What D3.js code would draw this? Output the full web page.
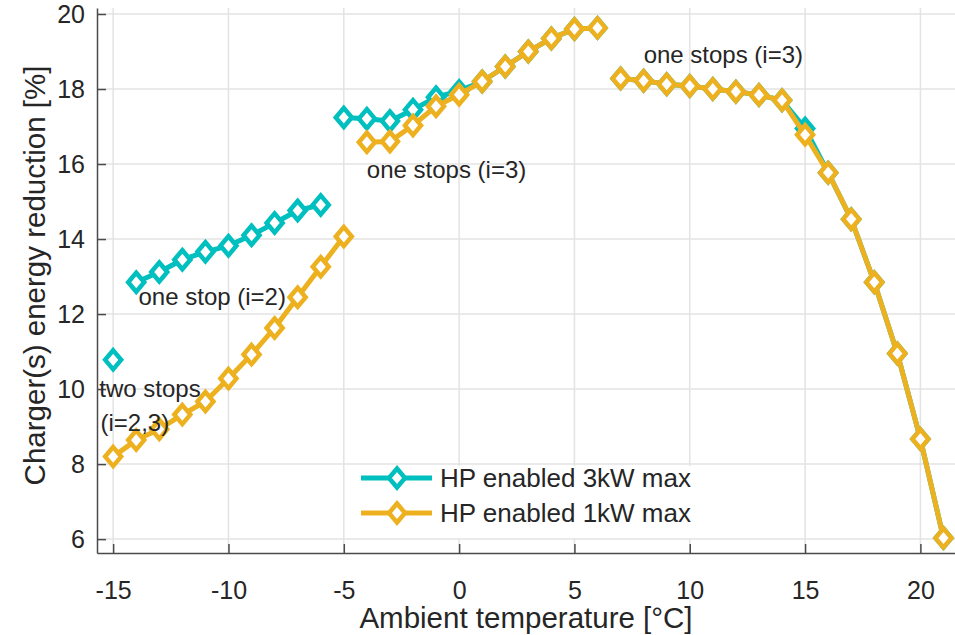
<!DOCTYPE html>
<html>
<head>
<meta charset="utf-8">
<script src="https://cdn.jsdelivr.net/npm/d3@7"></script>
<style>
  body { margin: 0; background: #fff; }
  svg text { font-family: "Liberation Sans", Arial, sans-serif; fill: #262626; }
</style>
</head>
<body>
<div id="chart"></div>
<script>
// ambient temperature [°C]
const temps = [-15, -14, -13, -12, -11, -10, -9, -8, -7, -6, -5, -4, -3, -2, -1, 0, 1, 2, 3, 4, 5, 6,
               7, 8, 9, 10, 11, 12, 13, 14, 15, 16, 17, 18, 19, 20, 21];

// HP enabled 3kW max
const hp3kW = [10.78, 12.85, 13.12, 13.45, 13.66, 13.82, 14.1, 14.43, 14.76, 14.91, 17.24, 17.21, 17.15, 17.45, 17.78, 17.95,
               18.2, 18.6, 19.0, 19.35, 19.6, 19.63,
               18.28, 18.22, 18.13, 18.08, 18.0, 17.93, 17.84, 17.7, 16.95, 15.77, 14.53, 12.85, 10.95, 8.67, 6.03];
// temperatures where a new line segment begins
const hp3kWBreaks = [-14, -5, 7];

// HP enabled 1kW max
const hp1kW = [8.2, 8.64, 8.93, 9.32, 9.67, 10.28, 10.92, 11.63, 12.45, 13.26, 14.07, 16.58, 16.6, 17.03, 17.54, 17.85,
               18.2, 18.6, 19.0, 19.35, 19.6, 19.63,
               18.28, 18.22, 18.13, 18.08, 18.0, 17.93, 17.84, 17.7, 16.78, 15.77, 14.53, 12.85, 10.95, 8.67, 6.03];
const hp1kWBreaks = [-4, 7];

const xTicks = [-15, -10, -5, 0, 5, 10, 15, 20];
const yTicks = [6, 8, 10, 12, 14, 16, 18, 20];

const seriesNames = ['HP enabled 3kW max', 'HP enabled 1kW max'];
const colors = ['#00bfbf', '#edb120'];

const annotations = [
  { x: -13.9, y: 12.23, text: 'one stop (i=2)' },
  { x: -4.0, y: 15.63, text: 'one stops (i=3)' },
  { x: 8.0, y: 18.69, text: 'one stops (i=3)' },
  { x: -15.6, y: 9.8, text: 'two stops' },
  { x: -15.55, y: 8.88, text: '(i=2,3)' }
];

const width = 955, height = 635;
const m = { left: 97, right: 955, top: 8, bottom: 553 };

const svg = d3.select('#chart').append('svg')
  .attr('width', width)
  .attr('height', height);

const x = d3.scaleLinear().domain([-15.7, 21.5]).range([m.left, m.right]);
const y = d3.scaleLinear().domain([5.63, 20.16]).range([m.bottom, m.top]);

// grid
svg.append('g').selectAll('line')
  .data(xTicks).enter().append('line')
  .attr('x1', d => x(d)).attr('x2', d => x(d))
  .attr('y1', m.top).attr('y2', m.bottom)
  .attr('stroke', '#e3e3e3').attr('stroke-width', 1.5);
svg.append('g').selectAll('line')
  .data(yTicks).enter().append('line')
  .attr('x1', m.left).attr('x2', m.right)
  .attr('y1', d => y(d)).attr('y2', d => y(d))
  .attr('stroke', '#e3e3e3').attr('stroke-width', 1.5);

// axes (ticks inside, MATLAB-like), plain hyphen for negatives
const xAxis = svg.append('g')
  .attr('transform', 'translate(0,' + m.bottom + ')')
  .call(d3.axisBottom(x).tickValues(xTicks).tickFormat(d => String(d))
    .tickSizeInner(-9).tickSizeOuter(0).tickPadding(28));
const yAxis = svg.append('g')
  .attr('transform', 'translate(' + m.left + ',0)')
  .call(d3.axisLeft(y).tickValues(yTicks).tickFormat(d => String(d))
    .tickSizeInner(-9).tickSizeOuter(0).tickPadding(12));

[xAxis, yAxis].forEach(a => {
  a.select('.domain').attr('stroke', '#4a4a4a').attr('stroke-width', 1.5);
  a.selectAll('.tick line').attr('stroke', '#4a4a4a').attr('stroke-width', 1.5);
  a.selectAll('.tick text').attr('font-size', 25).attr('fill', '#262626')
    .style('font-family', '"Liberation Sans", Arial, sans-serif');
});

// labels
svg.append('text')
  .attr('x', (m.left + m.right) / 2).attr('y', 628)
  .attr('text-anchor', 'middle').attr('font-size', 29.5)
  .text('Ambient temperature [°C]');
svg.append('text')
  .attr('transform', 'translate(45,' + ((m.top + m.bottom) / 2 - 5) + ') rotate(-90)')
  .attr('text-anchor', 'middle').attr('font-size', 29.5)
  .text('Charger(s) energy reduction [%]');

// series
const diamond = (cx, cy) => `M${cx},${cy - 9.5}L${cx + 8},${cy}L${cx},${cy + 9.5}L${cx - 8},${cy}Z`;

const drawSeries = (values, breaks, color) => {
  const pts = temps.map((t, i) => ({ t: t, v: values[i] }));
  const segs = [];
  pts.forEach(p => {
    if (segs.length === 0 || breaks.includes(p.t)) segs.push([]);
    segs[segs.length - 1].push(p);
  });
  const line = d3.line().x(d => x(d.t)).y(d => y(d.v));
  const g = svg.append('g');
  g.selectAll('path.seg')
    .data(segs).enter().append('path')
    .attr('class', 'seg')
    .attr('d', line)
    .attr('fill', 'none')
    .attr('stroke', color)
    .attr('stroke-width', 5)
    .attr('stroke-linejoin', 'round');
  g.selectAll('path.mark')
    .data(pts).enter().append('path')
    .attr('class', 'mark')
    .attr('d', d => diamond(x(d.t), y(d.v)))
    .attr('fill', '#fff')
    .attr('stroke', color)
    .attr('stroke-width', 4.5);
};

drawSeries(hp3kW, hp3kWBreaks, colors[0]);
drawSeries(hp1kW, hp1kWBreaks, colors[1]);

// annotations
svg.append('g').selectAll('text')
  .data(annotations).enter().append('text')
  .attr('x', d => x(d.x))
  .attr('y', d => y(d.y))
  .attr('font-size', 24)
  .text(d => d.text);

// legend
const legend = svg.append('g');
legend.append('rect')
  .attr('x', 355).attr('y', 466).attr('width', 345).attr('height', 72)
  .attr('fill', '#fff');
const rows = legend.selectAll('g.row')
  .data(seriesNames).enter().append('g')
  .attr('class', 'row')
  .attr('transform', (d, i) => 'translate(0,' + (478 + i * 35) + ')');
rows.append('line')
  .attr('x1', 361).attr('x2', 432)
  .attr('stroke', (d, i) => colors[i]).attr('stroke-width', 5);
rows.append('path')
  .attr('d', diamond(397, 0))
  .attr('fill', '#fff')
  .attr('stroke', (d, i) => colors[i]).attr('stroke-width', 4.5);
rows.append('text')
  .attr('x', 440).attr('y', 9)
  .attr('font-size', 26)
  .text(d => d);
</script>
</body>
</html>
